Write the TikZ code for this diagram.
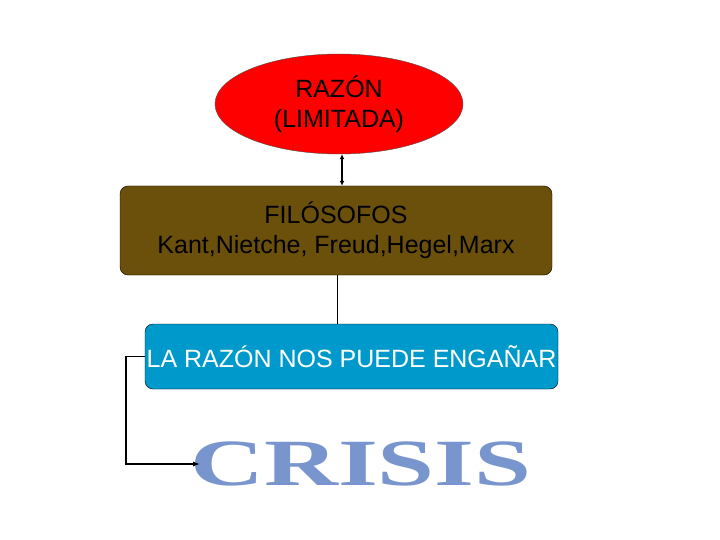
\documentclass[tikz,border=0pt]{standalone}
\usepackage{fontspec}
\setmainfont{Liberation Sans}
\newfontfamily\crisisfont{Liberation Serif}
\usetikzlibrary{arrows.meta,shapes.geometric}
\definecolor{brownbox}{RGB}{107,80,12}
\definecolor{bluebox}{RGB}{0,153,204}
\definecolor{crisisc}{RGB}{120,150,205}
\begin{document}
\begin{tikzpicture}[x=1pt,y=-1pt,
  txt/.style={font=\fontsize{25}{30}\selectfont,align=center},
  conn/.style={draw=black,line width=1.6pt}]
\useasboundingbox (0,0) rectangle (720,540);
\fill[white] (0,0) rectangle (720,540);
\node[ellipse,draw=black!70,fill=red,minimum width=248,minimum height=100,inner sep=0,txt] (raz) at (339,104) {RAZÓN\\(LIMITADA)};
\node[draw=black,rounded corners=8pt,fill=brownbox,minimum width=432,minimum height=89,inner sep=0,txt] (fil) at (336,230.5) {FILÓSOFOS\\Kant,Nietche, Freud,Hegel,Marx};
\node[draw=black,rounded corners=8pt,fill=bluebox,minimum width=413,minimum height=65,inner sep=0,txt,text=white] (lar) at (351.5,356.5) {LA RAZÓN NOS PUEDE ENGAÑAR};
\node[inner sep=0,text=crisisc] (cri) at (361,464) {\crisisfont\bfseries\fontsize{66}{66}\selectfont\scalebox{1.55}[1]{CRISIS}};
\coordinate (crl) at (200,464);
\draw[conn,{Latex[length=5pt,width=5pt]}-{Latex[length=5pt,width=5pt]}] (raz.south -| 342,0) -- (fil.north -| 342,0);
\draw[line width=0.8pt] (fil.south -| 337,0) -- (lar.north -| 337,0);
\draw[conn,-{Latex[length=7pt]}] (lar.west) -- (126,356.5) |- (crl);
\end{tikzpicture}
\end{document}
